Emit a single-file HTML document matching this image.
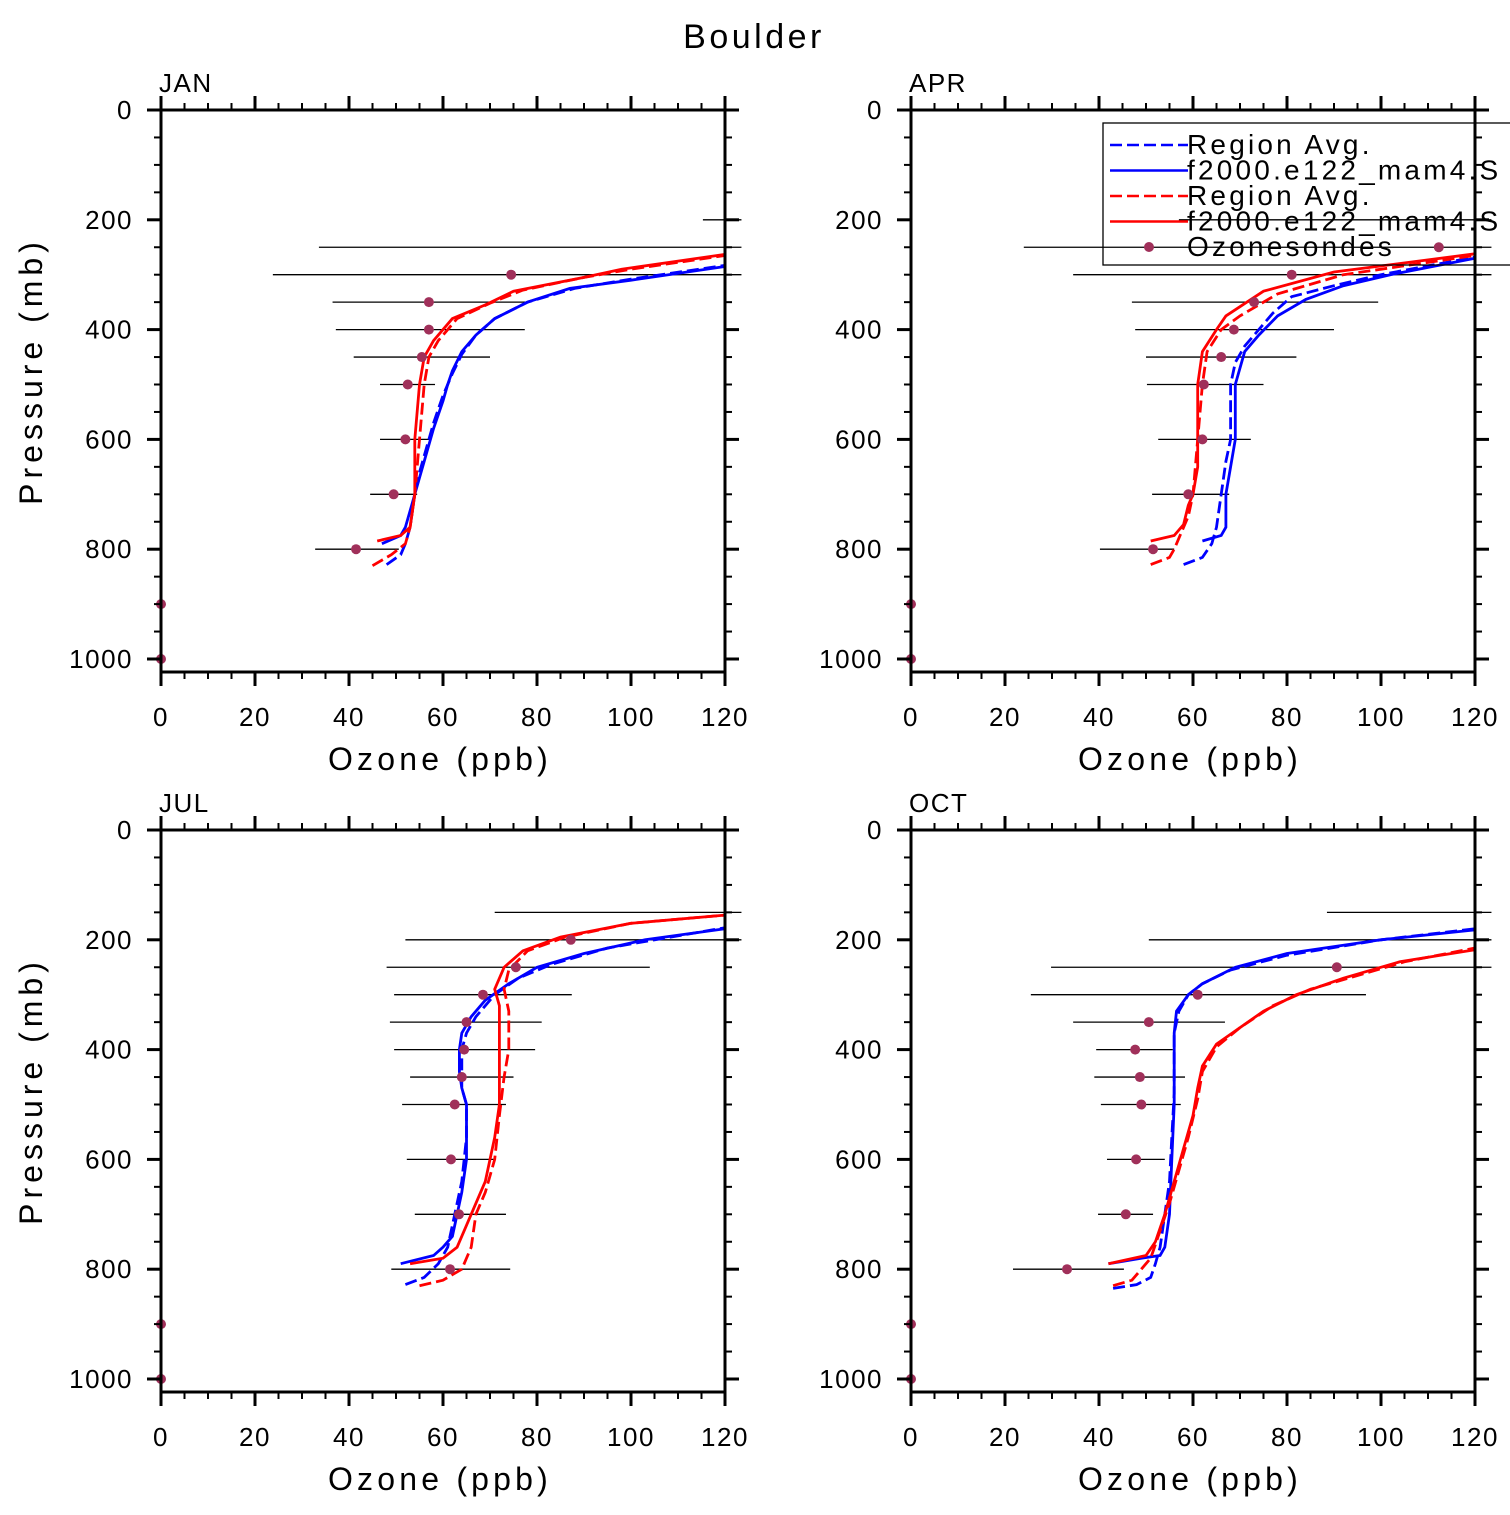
<!DOCTYPE html>
<html><head><meta charset="utf-8"><style>
html,body{margin:0;padding:0;background:#fff;}
svg text{font-family:"Liberation Sans",sans-serif;fill:#000;}
</style></head><body>
<svg id="chart" width="1510" height="1510" viewBox="0 0 1510 1510" xmlns="http://www.w3.org/2000/svg">
<text x="754" y="48" font-size="34" text-anchor="middle" letter-spacing="3.5">Boulder</text>
</svg>
<script>
// ---- data (ozone ppb, pressure mb) ----
const panelNames = ["JAN","APR","JUL","OCT"];
const sondeP = [200,250,300,350,400,450,500,600,700,800];
const janSonde = [null,null,74.5,57,57,55.5,52.5,52,49.5,41.5];
const janLo = [115.3,33.6,23.8,36.5,37.2,41,46.6,46.6,44.5,32.8];
const janHi = [125,125,125,77.7,77.4,70,58.3,57.4,54.5,50.6];
const aprSonde = [null,112.3,81,73,68.7,66,62.3,62,59,51.5];
const aprLo = [57,24,34.5,47,47.7,50,50.2,52.6,51.3,40.2];
const aprHi = [125,125,125,99.4,90,82,75,72.3,67.7,56];
const julP = [150,200,250,300,350,400,450,500,600,700,800];
const julSonde = [null,87.2,75.5,68.5,65,64.5,64,62.5,61.7,63.4,61.5];
const julLo = [71,52,48,49.6,48.7,49.6,53,51.3,52.3,54,49];
const julHi = [125,125,104,87.4,81,79.6,75,73.4,70.9,73.4,74.3];
const octSonde = [null,null,90.6,61,50.6,47.7,48.7,49,47.9,45.7,33.2];
const octLo = [88.5,50.6,29.8,25.5,34.5,39.4,39,40.4,41.7,39.8,21.7];
const octHi = [125,125,125,96.8,66.8,55.7,58.3,57.4,54,51.5,45.3];

const janBlue = [[47,790],[51,775],[52,760],[53,730],[54,700],[55,670],[56,640],[57,610],[58,580],[59,555],[60,530],[61,500],[62,475],[64,440],[67,410],[71,380],[78,350],[87,325],[100,310],[120,285]];
const janBlueD = [[48,828],[51,810],[52,790],[53,760],[54,700],[55,660],[56,630],[57,600],[58,570],[59,545],[60,520],[62,480],[64,445],[67,410],[71,380],[78,350],[88,325],[100,308],[120,283]];
const janRed = [[46,785],[51,775],[53,760],[54,700],[54,600],[55,500],[56,450],[58,420],[62,380],[69,355],[75,330],[90,305],[98,290],[120,263]];
const janRedD = [[45,830],[49,810],[52,790],[53,760],[54,700],[55,600],[56,500],[57,450],[59,420],[63,380],[70,352],[77,328],[90,305],[100,290],[120,265]];
const aprBlue = [[62,785],[66,775],[67,760],[67,700],[68,650],[69,600],[69,550],[69,500],[70,470],[71,440],[74,410],[78,375],[84,345],[92,320],[102,300],[120,270]];
const aprBlueD = [[58,828],[62,815],[64,790],[65,760],[66,700],[67,640],[68,600],[68,500],[69,460],[71,430],[74,400],[77,370],[81,340],[90,320],[100,300],[120,268]];
const aprRed = [[51,785],[56,775],[58,755],[59,720],[60,700],[61,650],[61,600],[61,500],[62,440],[65,400],[67,375],[75,330],[90,295],[120,262]];
const aprRedD = [[51,828],[55,815],[56,800],[57,780],[59,740],[60,700],[61,600],[62,500],[63,440],[66,400],[70,375],[78,335],[92,300],[120,265]];
const julBlue = [[51,790],[58,775],[60,760],[62,740],[63,700],[64,660],[65,600],[65,540],[65,500],[64,470],[63.5,440],[63.5,400],[64,370],[66,340],[69,310],[74,280],[80,250],[90,225],[103,200],[120,180]];
const julBlueD = [[52,828],[56,815],[59,790],[61,760],[62,720],[63,680],[64,640],[65,560],[65,500],[64,470],[64,430],[64,400],[65,370],[67,340],[71,300],[76,270],[83,245],[95,215],[120,178]];
const julRed = [[53,790],[60,780],[63,760],[65,720],[67,680],[69,640],[70,600],[71,560],[72,500],[72,440],[72,380],[72,320],[71,290],[73,250],[77,220],[85,195],[100,170],[120,155]];
const julRedD = [[55,830],[60,820],[64,800],[66,760],[67,700],[69,660],[71,600],[72,520],[73,450],[74,400],[74,330],[73,290],[74,255],[78,220],[86,195],[100,170],[120,155]];
const octBlue = [[42,790],[49,780],[53,775],[54,760],[55,700],[55.5,600],[56,500],[56,420],[56,370],[56.5,330],[59,300],[62,280],[69,250],[80,225],[100,200],[120,182]];
const octBlueD = [[43,835],[48,828],[51,815],[52,790],[53,760],[54,700],[55,640],[55.5,560],[56,480],[56,420],[56,370],[57,330],[59,300],[62,280],[68,255],[80,228],[100,200],[120,180]];
const octRed = [[42,790],[50,775],[52,750],[54,700],[56,640],[58,580],[60,520],[61,470],[62,430],[65,390],[70,360],[75,330],[82,300],[92,270],[104,240],[120,218]];
const octRedD = [[43,830],[47,820],[49,800],[51,780],[53,730],[55,680],[57,620],[59,560],[61,490],[62,440],[65,395],[70,360],[77,320],[85,290],[95,265],[105,240],[120,215]];
const xTicks = [0,20,40,60,80,100,120];
const yTicks = [0,200,400,600,800,1000];

const NS="http://www.w3.org/2000/svg";
const svg=document.getElementById('chart');
function mk(tag,attrs,parent){const e=document.createElementNS(NS,tag);for(const k in attrs)e.setAttribute(k,attrs[k]);(parent||svg).appendChild(e);return e;}

const panels=[
 {x0:161,y0:110,name:"JAN",P:sondeP,s:janSonde,lo:janLo,hi:janHi,b:janBlue,bd:janBlueD,r:janRed,rd:janRedD},
 {x0:911,y0:110,name:"APR",P:sondeP,s:aprSonde,lo:aprLo,hi:aprHi,b:aprBlue,bd:aprBlueD,r:aprRed,rd:aprRedD,legend:true},
 {x0:161,y0:830,name:"JUL",P:julP,s:julSonde,lo:julLo,hi:julHi,b:julBlue,bd:julBlueD,r:julRed,rd:julRedD},
 {x0:911,y0:830,name:"OCT",P:julP,s:octSonde,lo:octLo,hi:octHi,b:octBlue,bd:octBlueD,r:octRed,rd:octRedD}
];
const W=564, H=562, XS=4.7, YS=0.549;

panels.forEach((pn,i)=>{
  const g=mk('g',{});
  
  
  const X=v=>pn.x0+v*XS, Y=p=>pn.y0+p*YS;
  pn.P.forEach((p,k)=>{
    const l=mk('line',{x1:X(pn.lo[k]),x2:X(Math.min(pn.hi[k],123.5)),y1:Y(p),y2:Y(p),stroke:'#000','stroke-width':1.3},g);
    
    
  });
  function line(data,color,dash,nm){
    const d=data.map((q,k)=>(k?'L':'M')+X(q[0]).toFixed(1)+' '+Y(q[1]).toFixed(1)).join(' ');
    const a={d:d,fill:'none',stroke:color,'stroke-width':2.8};
    if(dash)a['stroke-dasharray']='12 5';
    const e=mk('path',a,g);
    
    
  }
  line(pn.bd,'#0000ff',true,'blue-region-avg-line');
  line(pn.b,'#0000ff',false,'blue-model-line');
  line(pn.rd,'#ff0000',true,'red-region-avg-line');
  line(pn.r,'#ff0000',false,'red-model-line');
  pn.P.forEach((p,k)=>{
    if(pn.s[k]==null)return;
    const c=mk('circle',{cx:X(pn.s[k]),cy:Y(p),r:5,fill:'#a0305a'},g);
    
    
  });
  [900,1000].forEach(p=>{
    const c=mk('circle',{cx:X(0),cy:Y(p),r:5,fill:'#a0305a'},g);
    
    
  });
  const fr=mk('rect',{x:pn.x0,y:pn.y0,width:W,height:H,fill:'none',stroke:'#000','stroke-width':3},g);
  
  
  for(let v=0;v<=120;v+=5){
    const L=(v%20===0)?14:7, sw=(v%20===0)?3:2;
    mk('line',{x1:X(v),x2:X(v),y1:pn.y0,y2:pn.y0-L,stroke:'#000','stroke-width':sw},g);
    mk('line',{x1:X(v),x2:X(v),y1:pn.y0+H,y2:pn.y0+H+L,stroke:'#000','stroke-width':sw},g);
  }
  for(let p=0;p<=1000;p+=50){
    const L=(p%200===0)?14:7, sw=(p%200===0)?3:2;
    mk('line',{x1:pn.x0,x2:pn.x0-L,y1:Y(p),y2:Y(p),stroke:'#000','stroke-width':sw},g);
    mk('line',{x1:pn.x0+W,x2:pn.x0+W+L,y1:Y(p),y2:Y(p),stroke:'#000','stroke-width':sw},g);
  }
  xTicks.forEach(v=>{
    const t=mk('text',{x:X(v),y:pn.y0+H+54,'font-size':26,'text-anchor':'middle','letter-spacing':1.5},g);
    t.textContent=v;
    
    
  });
  yTicks.forEach(p=>{
    const t=mk('text',{x:pn.x0-28,y:Y(p)+9,'font-size':26,'text-anchor':'end','letter-spacing':1.5},g);
    t.textContent=p;
    
    
  });
  const xt=mk('text',{x:pn.x0+W/2-3,y:pn.y0+H+98,'font-size':32,'text-anchor':'middle','letter-spacing':4.2},g);
  xt.textContent='Ozone (ppb)';
  
  
  if(i%2===0){
    const yt=mk('text',{x:0,y:0,'font-size':32,'text-anchor':'middle','letter-spacing':5,transform:`translate(42,${pn.y0+H/2-20}) rotate(-90)`},g);
    yt.textContent='Pressure (mb)';
    
    
  }
  const pt=mk('text',{x:pn.x0-2,y:pn.y0-18,'font-size':26,'letter-spacing':1.5},g);
  pt.textContent=pn.name;
  
  
  if(pn.legend){
    const lg=mk('g',{},g);
    
    
    mk('rect',{x:1103,y:123,width:420,height:142,fill:'none',stroke:'#000','stroke-width':1.3},lg);
    const items=[['#0000ff',true,'Region  Avg.'],['#0000ff',false,'f2000.e122_mam4.S'],['#ff0000',true,'Region  Avg.'],['#ff0000',false,'f2000.e122_mam4.S'],[null,false,'Ozonesondes']];
    items.forEach((it,k)=>{
      const yy=145+k*25.5;
      const e=mk('g',{},lg);
      
      
      if(it[0]){
        const a={x1:1110,x2:1188,y1:yy,y2:yy,stroke:it[0],'stroke-width':2.6};
        if(it[1])a['stroke-dasharray']='12 5';
        mk('line',a,e);
      } else {
        mk('circle',{cx:1149,cy:yy,r:5,fill:'#a0305a'},e);
      }
      const t=mk('text',{x:1187,y:yy+9,'font-size':28,'letter-spacing':3.2},e);
      t.textContent=it[2];
    });
  }
});
</script>
</body></html>
